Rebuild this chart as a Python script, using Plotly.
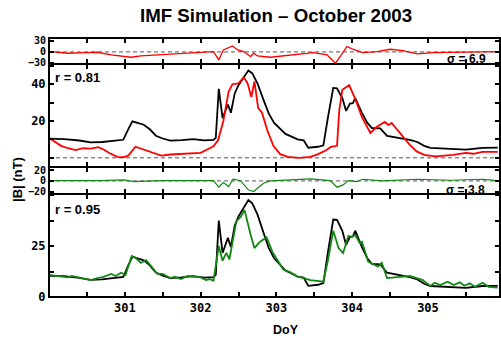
import plotly.graph_objects as go

# ---------------- data ----------------
obs_doy = [300.0, 300.2, 300.4, 300.55, 300.7, 300.85, 300.98, 301.04, 301.1, 301.18,
           301.25, 301.33, 301.41, 301.5, 301.6, 301.75, 301.9, 302.05, 302.17, 302.2,
           302.24, 302.29, 302.36, 302.4, 302.45, 302.5, 302.57, 302.63, 302.68, 302.75,
           302.83, 302.9, 302.97, 303.05, 303.12, 303.2, 303.28, 303.36, 303.42, 303.55,
           303.62, 303.68, 303.75, 303.8, 303.87, 303.92, 303.97, 304.01, 304.04, 304.13,
           304.2, 304.26, 304.37, 304.46, 304.63, 304.76, 304.86, 304.95, 305.03, 305.2,
           305.35, 305.5, 305.72, 305.92]
obs_b = [10.4, 10.2, 9.4, 8.4, 8.6, 9.4, 9.8, 15.0, 19.8, 18.8,
         18.0, 15.5, 12.0, 10.5, 9.3, 9.6, 10.2, 9.5, 9.7, 10.8,
         37.5, 21.6, 29.0, 24.5, 35.0, 39.5, 44.0, 47.5, 46.0, 40.5,
         31.5, 24.0, 19.0, 15.5, 13.0, 11.5, 10.0, 9.5, 5.5, 6.0,
         6.8, 22.0, 38.0, 37.8, 32.4, 25.5, 29.5, 29.7, 32.5, 24.3,
         19.0, 16.2, 16.0, 11.9, 10.8, 9.7, 8.6, 6.5, 5.4, 5.0,
         4.9, 4.5, 5.4, 5.5]

m1_doy = [300.0, 300.08, 300.16, 300.25, 300.35, 300.45, 300.55, 300.65, 300.72, 300.8,
          300.9, 300.98, 301.05, 301.14, 301.22, 301.3, 301.4, 301.48, 301.6, 301.75,
          301.9, 302.0, 302.1, 302.17, 302.23, 302.3, 302.37, 302.42, 302.5, 302.57,
          302.62, 302.67, 302.71, 302.76, 302.81, 302.88, 302.96, 303.05, 303.15, 303.3,
          303.45, 303.55, 303.65, 303.72, 303.8, 303.83, 303.87, 303.96, 304.04, 304.13,
          304.24, 304.33, 304.43, 304.48, 304.52, 304.63, 304.76, 304.85, 304.95, 305.1,
          305.2, 305.33, 305.5, 305.6, 305.72, 305.92]
m1_b = [10.8, 8.5, 6.5, 5.2, 4.2, 5.2, 5.0, 5.8, 4.5, 2.5,
        0.5, 0.3, 1.3, 6.0, 4.8, 3.8, 2.5, 1.2, 1.8, 2.2,
        2.5, 2.7, 4.8, 6.2, 9.5, 20.0, 36.0, 40.0, 40.5, 43.8,
        40.5, 33.0, 41.5, 27.0, 24.5, 15.0, 6.5, 2.0, 0.5, 0.0,
        0.5, 2.0, 4.0, 5.9, 6.5, 26.0, 37.0, 39.5, 32.0, 22.0,
        13.5, 17.0, 19.5, 17.8, 18.9, 13.5, 7.0, 3.5, 1.6, 0.8,
        1.0, 1.6, 2.7, 2.2, 3.2, 3.2]

m2_doy = [300.0, 300.12, 300.25, 300.3, 300.42, 300.55, 300.64, 300.72, 300.82, 300.88,
          300.95, 301.01, 301.09, 301.15, 301.21, 301.28, 301.35, 301.43, 301.5, 301.6,
          301.66, 301.74, 301.83, 302.0, 302.07, 302.12, 302.17, 302.24, 302.29, 302.34,
          302.38, 302.43, 302.47, 302.53, 302.58, 302.66, 302.71, 302.78, 302.87, 302.95,
          303.02, 303.09, 303.18, 303.28, 303.36, 303.45, 303.62, 303.68, 303.75, 303.82,
          303.88, 303.95, 303.99, 304.04, 304.1, 304.13, 304.21, 304.3, 304.34, 304.39,
          304.46, 304.63, 304.76, 304.8, 304.93, 305.03, 305.09, 305.16, 305.26, 305.34,
          305.42, 305.48, 305.55, 305.62, 305.72, 305.8, 305.92]
m2_b = [10.8, 10.3, 9.6, 10.3, 9.3, 8.3, 9.3, 9.9, 11.3, 10.3,
        11.9, 10.8, 20.1, 19.0, 16.7, 18.1, 15.0, 11.3, 11.3, 9.3,
        9.9, 8.8, 10.3, 9.6, 8.3, 8.8, 8.0, 25.0, 17.8, 21.6,
        18.4, 28.9, 36.9, 39.3, 42.6, 30.5, 24.0, 27.0, 29.2, 22.0,
        17.5, 13.5, 12.2, 10.0, 9.2, 8.3, 7.5, 18.0, 32.5, 24.0,
        21.6, 29.9, 29.4, 30.4, 26.5, 27.1, 17.3, 15.7, 14.9, 16.7,
        9.3, 9.9, 10.3, 9.9, 8.3, 5.4, 7.0, 5.9, 7.5, 5.9,
        7.2, 5.5, 6.7, 5.0, 7.0, 5.0, 4.6]

res1_doy = [300.03, 300.25, 300.5, 300.64, 300.82, 300.95, 301.08, 301.21, 301.43, 301.64,
            302.0, 302.17, 302.24, 302.3, 302.42, 302.49, 302.57, 302.66, 302.7, 302.75,
            302.92, 303.09, 303.32, 303.49, 303.67, 303.78, 303.84, 303.93, 304.01, 304.14,
            304.33, 304.5, 304.67, 304.86, 305.07, 305.29, 305.51, 305.92]
res1_val = [0.8, -3.6, -1.8, -0.9, -8.0, -10.9, -14.5, -10.9, -8.2, -5.5,
            -1.8, 0.9, -21.8, 5.5, 16.4, 5.5, 1.0, -12.7, -3.6, -10.9,
            -14.5, -10.9, -5.5, -1.8, -8.2, -30.9, -12.7, 14.5, 7.3, -1.8,
            0.9, 7.3, 3.6, -5.5, -1.8, -1.0, 0.9, 0.9]

res2_doy = [300.03, 300.46, 300.68, 300.99, 301.12, 301.47, 301.83, 302.17, 302.24, 302.3,
            302.37, 302.43, 302.53, 302.63, 302.7, 302.83, 302.92, 303.05, 303.45, 303.71,
            303.8, 303.88, 303.95, 304.06, 304.14, 304.41, 304.86, 305.29, 305.72, 305.92]
res2_val = [0.6, 0.0, 0.6, 1.8, -1.2, 0.6, 0.0, 0.6, -11.5, -3.0,
            -10.3, 3.6, 0.0, -16.4, -19.4, -4.2, 0.0, 0.6, 3.6, 0.6,
            -11.5, -7.3, 0.6, -1.2, 3.0, 0.0, 3.0, 1.2, 3.0, 0.6]

x_tickvals = [300.5, 301, 301.5, 302, 302.5, 303, 303.5, 304, 304.5, 305, 305.5]
x_ticktext = ["", "301", "", "302", "", "303", "", "304", "", "305", ""]

# ---------------- figure ----------------
W, H = 501, 340
ML, MR, MT, MB = 49, 1, 38, 43
PH = H - MT - MB


def py2paper(py):
    return (H - MB - py) / PH


def px2paper(px):
    return (px - ML) / (W - ML - MR)


fig = go.Figure()

BLACK = "#000000"
RED = "#ff0000"
GREEN = "#118811"

fig.add_trace(go.Scatter(x=res1_doy, y=res1_val, mode="lines",
                         line=dict(color=RED, width=1.3), xaxis="x", yaxis="y"))
fig.add_trace(go.Scatter(x=obs_doy, y=obs_b, mode="lines",
                         line=dict(color=BLACK, width=1.8), xaxis="x2", yaxis="y2"))
fig.add_trace(go.Scatter(x=m1_doy, y=m1_b, mode="lines",
                         line=dict(color=RED, width=1.8), xaxis="x2", yaxis="y2"))
fig.add_trace(go.Scatter(x=res2_doy, y=res2_val, mode="lines",
                         line=dict(color=GREEN, width=1.2), xaxis="x3", yaxis="y3"))
fig.add_trace(go.Scatter(x=obs_doy, y=obs_b, mode="lines",
                         line=dict(color=BLACK, width=1.8), xaxis="x4", yaxis="y4"))
fig.add_trace(go.Scatter(x=m2_doy, y=m2_b, mode="lines",
                         line=dict(color=GREEN, width=1.8), xaxis="x4", yaxis="y4"))

tickfont = dict(family="DejaVu Sans Mono", size=12, color="black", weight="bold")
smallfont = dict(family="DejaVu Sans Mono", size=10, color="black", weight="bold")

common_axis = dict(showline=True, linecolor="black", linewidth=1, mirror="allticks",
                   ticks="inside", ticklen=5, tickwidth=1.5, tickcolor="black",
                   showgrid=False, zeroline=False, tickfont=tickfont, automargin=False)

xr = [300.0, 305.95]
dom = {
    1: [py2paper(64), 1.0],
    2: [py2paper(167), py2paper(64)],
    3: [py2paper(194), py2paper(167)],
    4: [0.0, py2paper(194)],
}

layout = dict(
    width=W, height=H,
    margin=dict(l=ML, r=MR, t=MT, b=MB, pad=0),
    paper_bgcolor="white", plot_bgcolor="white",
    showlegend=False,
    font=dict(family="Liberation Sans", color="black"),
)

for i in range(1, 5):
    xa = dict(common_axis, domain=[0, 1], anchor=f"y{'' if i == 1 else i}", range=xr,
              tickvals=x_tickvals, ticktext=x_ticktext, showticklabels=(i == 4))
    if i > 1:
        xa["matches"] = "x"
    layout["xaxis" if i == 1 else f"xaxis{i}"] = xa

layout["yaxis"] = dict(common_axis, domain=dom[1], anchor="x", range=[-33, 38],
                       tickvals=[-30, 0, 30], ticktext=["\u221230", "0", "30"],
                       tickfont=smallfont)
layout["yaxis2"] = dict(common_axis, domain=dom[2], anchor="x2", range=[-5, 51],
                        tickvals=[0, 10, 20, 30, 40, 50], ticktext=["", "", "20", "", "40", ""])
layout["yaxis3"] = dict(common_axis, domain=dom[3], anchor="x3", range=[-24, 25.5],
                        tickvals=[-20, 0, 20], ticktext=["\u221220", "0", "20"],
                        tickfont=smallfont)
layout["yaxis4"] = dict(common_axis, domain=dom[4], anchor="x4", range=[0, 50.5],
                        tickvals=[0, 12.5, 25, 37.5, 50], ticktext=["0", "", "25", "", ""])

fig.update_layout(**layout)

# dashed zero reference lines
for yref, xref in (("y", "x"), ("y2", "x2"), ("y3", "x3")):
    fig.add_shape(type="line", xref=f"{xref} domain", yref=yref, x0=0, x1=1, y0=0, y1=0,
                  line=dict(color="#555555", width=1, dash="4px,3px"), layer="below")

# panel frames (2 px, shared edges)
for i, (xref, yref) in enumerate((("x", "y"), ("x2", "y2"), ("x3", "y3"), ("x4", "y4"))):
    fig.add_shape(type="rect", xref=f"{xref} domain", yref=f"{yref} domain",
                  x0=0, x1=1, y0=0, y1=1, line=dict(color="black", width=2),
                  fillcolor="rgba(0,0,0,0)", layer="above")

lab_font = dict(family="Liberation Sans", size=13, color="black", weight="bold")
sig_font = dict(family="Liberation Sans", size=12, color="black", weight="bold")

ann = [
    dict(text="IMF Simulation \u2013 October 2003", x=px2paper(276), y=py2paper(15.5),
         xanchor="center", yanchor="middle",
         font=dict(family="Liberation Sans", size=18.7, color="black", weight="bold")),
    dict(text="r = 0.81", x=px2paper(53), y=py2paper(77), xanchor="left", yanchor="middle",
         font=lab_font),
    dict(text="r = 0.95", x=px2paper(53), y=py2paper(209.5), xanchor="left", yanchor="middle",
         font=lab_font),
    dict(text="\u03c3 = 6.9", x=px2paper(488), y=py2paper(59.5), xanchor="right",
         yanchor="middle", font=sig_font),
    dict(text="\u03c3 = 3.8", x=px2paper(487), y=py2paper(189.5), xanchor="right",
         yanchor="middle", font=sig_font),
    dict(text="|B| (nT)", x=px2paper(17), y=py2paper(180), xanchor="center",
         yanchor="middle", textangle=-90, font=lab_font),
    dict(text="DoY", x=px2paper(286), y=py2paper(330), xanchor="center", yanchor="middle",
         font=dict(family="Liberation Sans", size=12.5, color="black", weight="bold")),
]
for a in ann:
    a.update(xref="paper", yref="paper", showarrow=False)
    fig.add_annotation(**a)

fig.write_html(
    "out.html",
    config={"displayModeBar": False},
    post_script="document.body.style.margin='0';document.body.style.padding='0';"
                "document.body.style.overflow='hidden';",
)
